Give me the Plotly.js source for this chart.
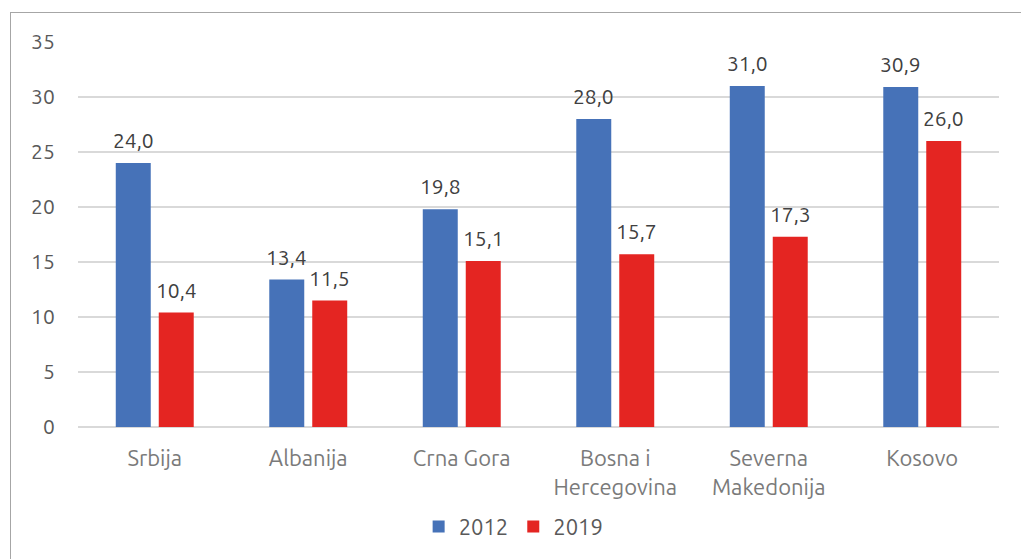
<!DOCTYPE html>
<html><head><meta charset="utf-8">
<script src="https://cdn.plot.ly/plotly-3.0.1.min.js"></script>
<style>
html,body{margin:0;padding:0;background:#fff;}
#frame{position:absolute;left:10px;top:12px;width:1030px;height:600px;border:1.5px solid #a6a6a6;box-sizing:border-box;}
#chart{position:absolute;left:0;top:0;width:1021px;height:559px;}
</style></head>
<body>
<div id="frame"></div>
<div id="chart"></div>
<script>
const categories = ["Srbija", "Albanija", "Crna Gora", "Bosna i<br>Hercegovina", "Severna<br>Makedonija", "Kosovo"];
const values2012 = [24.0, 13.4, 19.8, 28.0, 31.0, 30.9];
const values2019 = [10.4, 11.5, 15.1, 15.7, 17.3, 26.0];
const seriesNames = ["2012", "2019"];
const yTicks = [0, 5, 10, 15, 20, 25, 30, 35];

const fmt = v => v.toFixed(1).replace('.', ',');
const fontFam = "Ubuntu, 'Open Sans', 'DejaVu Sans', sans-serif";

const bargap = 0.44, bargroupgap = 0.186;
const slot = (1 - bargap) / 2;

const traces = [
  {type:'bar', name:seriesNames[0], x:categories, y:values2012, marker:{color:'#4672B8'}, hoverinfo:'none'},
  {type:'bar', name:seriesNames[1], x:categories, y:values2019, marker:{color:'#E42522'}, hoverinfo:'none'}
];

const annotations = [];
[values2012, values2019].forEach((vals, s) => {
  vals.forEach((v, i) => {
    annotations.push({
      x: i + (s === 0 ? -slot/2 : slot/2), y: v, xref:'x', yref:'y',
      text: fmt(v), showarrow:false, yanchor:'bottom', xanchor:'center', yshift:9,
      font:{size:21, color:'#404040', family:fontFam}
    });
  });
});

const layout = {
  width:1021, height:559,
  margin:{l:78, r:22, t:42, b:131},
  paper_bgcolor:'rgba(0,0,0,0)', plot_bgcolor:'rgba(0,0,0,0)',
  barmode:'group', bargap:bargap, bargroupgap:bargroupgap,
  font:{family:fontFam, size:21, color:'#595959'},
  xaxis:{type:'category', range:[-0.5, 5.5], showgrid:false, zeroline:false, showline:false,
    ticks:'outside', ticklen:12, tickcolor:'rgba(0,0,0,0)',
    tickfont:{size:22, color:'#7a7a7a', family:fontFam}},
  yaxis:{range:[0,35], tickvals:yTicks, showgrid:true, gridcolor:'#d9d9d9', gridwidth:1.5,
    zeroline:true, zerolinecolor:'#d9d9d9', zerolinewidth:1.5, showline:false,
    ticks:'outside', ticklen:18, tickcolor:'rgba(0,0,0,0)',
    tickfont:{size:21, color:'#595959', family:fontFam}},
  annotations: annotations,
  showlegend:true,
  legend:{orientation:'h', x:0.473, xanchor:'center', y:-0.256, yanchor:'middle',
    font:{size:22, color:'#595959', family:fontFam}, itemwidth:30, traceorder:'normal'}
};

Plotly.newPlot('chart', traces, layout, {displayModeBar:false, staticPlot:true});
</script>
</body></html>
